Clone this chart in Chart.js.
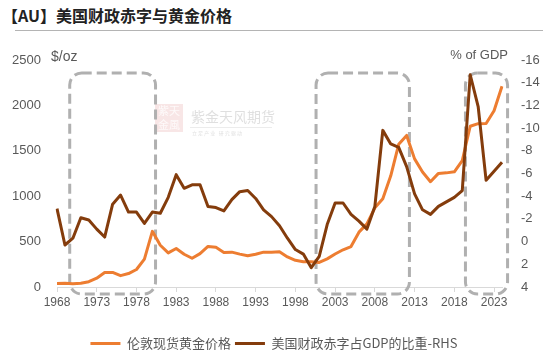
<!DOCTYPE html>
<html>
<head>
<meta charset="utf-8">
<script src="https://cdn.jsdelivr.net/npm/chart.js@4/dist/chart.umd.min.js"></script>
<style>
  html, body { margin: 0; padding: 0; background: #fff; }
  #wrap { position: relative; width: 560px; height: 358px; }
  #title {
    position: absolute; left: 2px; top: 3px;
    font: bold 16px "Noto Sans CJK SC", sans-serif; color: #222;
  }
  #rule { position: absolute; left: 15px; top: 30px; width: 528px; border-top: 1px solid #b4b4b4; }
  canvas { position: absolute; left: 0; top: 0; }
</style>
</head>
<body>
<div id="wrap">
  <div id="title">【AU】美国财政赤字与黄金价格</div>
  <div id="rule"></div>
  <canvas id="auChart" width="560" height="358"></canvas>
</div>
<script>
/* ===============================
   Data
================================ */
const years = [];
for (let y = 1968; y <= 2024; y++) years.push(String(y));

// London spot gold, annual average ($/oz)
const goldPrice = [
  39, 41, 36, 41, 58, 97, 159, 161, 125, 148,
  193, 307, 613, 460, 376, 424, 361, 317, 368, 447,
  437, 381, 384, 362, 344, 360, 384, 384, 388, 331,
  294, 279, 279, 271, 310, 363, 410, 445, 604, 695,
  872, 972, 1225, 1572, 1669, 1411, 1266, 1160, 1251, 1257,
  1269, 1393, 1770, 1799, 1800, 1941, 2210
];

// US federal deficit, % of GDP (negative = deficit)
const deficitPct = [
  -2.9, 0.3, -0.3, -2.1, -1.9, -1.1, -0.4, -3.3, -4.1, -2.6,
  -2.6, -1.6, -2.6, -2.5, -3.9, -5.9, -4.7, -5.0, -5.0, -3.1,
  -3.0, -2.7, -3.7, -4.4, -4.5, -3.8, -2.8, -2.2, -1.4, -0.3,
  0.7, 1.1, 2.3, 1.3, -1.5, -3.4, -3.4, -2.4, -1.8, -1.1,
  -3.1, -9.8, -8.6, -8.3, -6.6, -4.2, -2.8, -2.4, -3.1, -3.5,
  -3.9, -4.5, -14.7, -11.9, -5.4, -6.2, -7.0
];

// highlighted periods (in years)
const boxFrom = [1969.6, 2000.6, 2019.4];
const boxTo = [1980.4, 2012.35, 2024.7];

const tickColor = "#595959";

/* ===============================
   Dashed boxes + watermark
================================ */
const extrasPlugin = {
  id: "extras",
  beforeDatasetsDraw(chart) {
    const { ctx, chartArea, scales } = chart;

    // watermark
    ctx.save();
    ctx.fillStyle = "rgba(225,140,140,0.22)";
    ctx.fillRect(155, 104, 28, 28);
    ctx.fillStyle = "rgba(255,255,255,0.8)";
    ctx.font = "11px 'Noto Sans CJK SC'";
    ctx.textAlign = "center";
    ctx.textBaseline = "middle";
    ctx.fillText("紫天", 169, 111);
    ctx.fillText("金風", 169, 125);
    ctx.fillStyle = "rgba(150,150,150,0.3)";
    ctx.font = "14px 'Noto Sans CJK SC'";
    ctx.textAlign = "left";
    ctx.fillText("紫金天风期货", 191, 117);
    ctx.fillRect(190, 127, 82, 0.6);
    ctx.font = "5px 'Noto Sans CJK SC'";
    ctx.fillText("立 足 产 业   研 究 驱 动", 192, 133);
    ctx.restore();

    // dashed rounded boxes
    ctx.save();
    ctx.strokeStyle = "#b0b0b0";
    ctx.lineWidth = 3;
    ctx.setLineDash([10, 5]);
    const top = chartArea.top + 13;
    const bottom = chartArea.bottom + 7;
    boxFrom.forEach((from, i) => {
      const x1 = scales.x.getPixelForValue(from - 1968);
      const x2 = scales.x.getPixelForValue(boxTo[i] - 1968);
      ctx.beginPath();
      ctx.roundRect(x1, top, x2 - x1, bottom - top, 12);
      ctx.stroke();
    });
    ctx.restore();
  },
  afterDraw(chart) {
    const { ctx, chartArea } = chart;
    ctx.save();
    ctx.fillStyle = tickColor;
    ctx.textBaseline = "middle";
    ctx.font = "14px 'Liberation Sans'";
    ctx.textAlign = "left";
    ctx.fillText("$/oz", 51, chartArea.top - 3);
    ctx.font = "13px 'Liberation Sans'";
    ctx.textAlign = "right";
    ctx.fillText("% of GDP", chartArea.right + 6, chartArea.top - 5);
    ctx.restore();
  },
};

/* ===============================
   Chart
================================ */
new Chart(document.getElementById("auChart"), {
  type: "line",
  data: {
    labels: years,
    datasets: [
      {
        label: "伦敦现货黄金价格",
        data: goldPrice,
        yAxisID: "y",
        borderColor: "#ED7D31",
        backgroundColor: "#ED7D31",
        borderWidth: 3,
        pointRadius: 0,
        tension: 0,
        borderJoinStyle: "round",
        order: 1,
      },
      {
        label: "美国财政赤字占GDP的比重-RHS",
        data: deficitPct,
        yAxisID: "y1",
        borderColor: "#843C0C",
        backgroundColor: "#843C0C",
        borderWidth: 3,
        pointRadius: 0,
        tension: 0,
        borderJoinStyle: "round",
        order: 0,
      },
    ],
  },
  options: {
    responsive: false,
    animation: false,
    layout: { padding: { top: 60, bottom: -2, left: 0, right: 12 } },
    plugins: {
      legend: {
        position: "bottom",
        labels: {
          usePointStyle: true,
          pointStyle: "line",
          pointStyleWidth: 30,
          padding: 4,
          color: tickColor,
          font: { family: "'Noto Sans CJK SC'", size: 13 },
          sort: (a, b) => a.datasetIndex - b.datasetIndex,
        },
      },
      tooltip: { enabled: false },
    },
    scales: {
      x: {
        grid: {
          drawOnChartArea: false,
          drawTicks: true,
          tickLength: 5,
          color: (c) => (c.index % 5 === 0 ? "#d9d9d9" : "rgba(0,0,0,0)"),
        },
        border: { display: true, color: "#d9d9d9" },
        ticks: {
          autoSkip: false,
          maxRotation: 0,
          padding: 3,
          color: tickColor,
          font: { family: "'Liberation Sans'", size: 12 },
          callback: (v, i) => (i % 5 === 0 ? years[i] : ""),
        },
        afterFit: (s) => { s.height = 46; },
      },
      y: {
        position: "left",
        min: 0,
        max: 2500,
        ticks: {
          stepSize: 500,
          padding: 8,
          color: tickColor,
          font: { family: "'Liberation Sans'", size: 13 },
          callback: (v) => String(v),
        },
        grid: { display: false },
        border: { display: false },
        afterFit: (s) => { s.width = 57; },
      },
      y1: {
        position: "right",
        reverse: true,
        min: -16,
        max: 4,
        ticks: {
          stepSize: 2,
          padding: 11,
          color: tickColor,
          font: { family: "'Liberation Sans'", size: 13 },
          callback: (v) => String(v),
        },
        grid: { display: false },
        border: { display: false },
        afterFit: (s) => { s.width = 46; },
      },
    },
  },
  plugins: [extrasPlugin],
});
</script>
</body>
</html>
